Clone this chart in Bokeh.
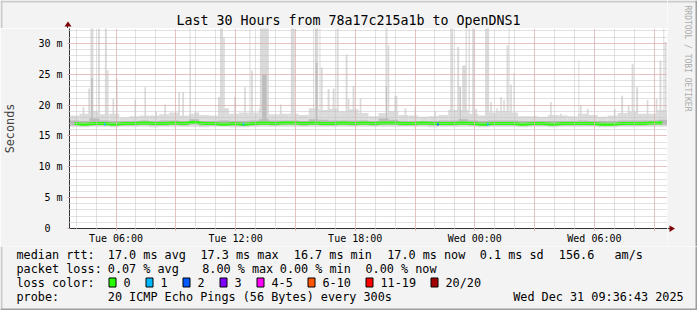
import math
from bokeh.plotting import figure
from bokeh.layouts import column, row
from bokeh.models import Range1d, FixedTicker, ColumnDataSource
from bokeh.core.properties import value
from bokeh.embed import file_html
from bokeh.resources import INLINE

# ---------------- data ----------------
T0, T1 = 3.667, 33.667          # hours since Tue 00:00 (30 hour window)
Y_MAX = 32.4                    # ms

TITLE = "Last 30 Hours from 78a17c215a1b to OpenDNS1"

# 30-minute bins starting at T0
median_ms = [17.0, 16.9, 17.0, 17.0, 16.9, 17.0, 17.0, 17.1, 17.0, 17.0,
             17.1, 17.0, 17.2, 17.0, 17.0, 16.9, 17.0, 16.9, 17.0, 17.1,
             17.0, 17.1, 17.1, 17.0, 17.1, 17.0, 17.0, 17.1, 17.0, 17.1,
             17.0, 17.1, 17.1, 17.0, 17.0, 17.1, 17.0, 17.0, 17.0, 17.1,
             17.0, 16.9, 17.0, 17.0, 17.0, 16.9, 17.0, 17.0, 16.9, 17.0,
             17.0, 17.0, 17.0, 16.9, 16.9, 17.0, 17.0, 17.0, 17.1, 17.1]
smoke_hi = [18.3, 18.6, 19.0, 18.5, 18.6, 18.0, 18.2, 18.3, 18.3, 18.5,
            18.8, 18.3, 18.6, 18.4, 18.3, 19.5, 18.6, 18.8, 18.8, 19.5,
            18.5, 18.6, 18.6, 18.4, 19.5, 19.2, 19.4, 19.0, 19.3, 18.7,
            18.2, 18.7, 19.0, 18.4, 18.3, 18.1, 18.2, 18.4, 19.2, 19.2,
            18.6, 18.3, 18.8, 19.0, 18.8, 18.2, 18.2, 18.1, 18.4, 18.3,
            18.2, 18.6, 18.4, 18.1, 18.3, 18.7, 18.9, 18.6, 18.6, 19.2]
smoke_lo = [16.5, 16.4, 16.5, 16.5, 16.4, 16.5, 16.5, 16.5, 16.4, 16.5,
            16.5, 16.5, 16.5, 16.4, 16.5, 16.5, 16.4, 16.4, 16.5, 16.5,
            16.5, 16.5, 16.5, 16.5, 16.5, 16.5, 16.5, 16.5, 16.5, 16.5,
            16.5, 16.5, 16.5, 16.5, 16.5, 16.5, 16.4, 16.5, 16.5, 16.5,
            16.5, 16.4, 16.5, 16.5, 16.5, 16.4, 16.5, 16.5, 16.4, 16.5,
            16.5, 16.5, 16.5, 16.4, 16.4, 16.5, 16.5, 16.5, 16.5, 16.5]
core_hi = [17.5, 17.4, 17.8, 17.5, 17.4, 17.4, 17.4, 17.5, 17.4, 17.5,
           17.5, 17.4, 17.7, 17.4, 17.4, 17.5, 17.4, 17.4, 17.5, 17.7,
           17.5, 17.5, 17.5, 17.4, 17.7, 17.6, 17.5, 17.5, 17.5, 17.5,
           17.4, 17.8, 17.6, 17.4, 17.4, 17.4, 17.4, 17.5, 17.5, 17.7,
           17.5, 17.4, 17.5, 17.5, 17.5, 17.4, 17.4, 17.4, 17.4, 17.4,
           17.4, 17.5, 17.4, 17.4, 17.4, 17.5, 17.5, 17.5, 17.5, 17.6]

# smoke spikes: time (h), width (min), max ping (ms), inner/darker smoke top (0 = none)
spike_h = [4.367, 4.652, 4.792, 5.142, 5.492, 5.582, 5.867, 6.042, 6.967, 7.467,
           8.017, 8.467, 9.167, 9.367, 9.717, 10.042, 11.217, 11.292, 11.417, 11.967,
           12.467, 12.717, 12.817, 13.442, 14.267, 14.867, 15.917, 16.067, 16.232, 16.317,
           16.667, 16.917, 17.117, 17.567, 17.667, 17.917, 18.267, 19.567, 19.667, 20.042,
           20.517, 21.017, 22.017, 22.842, 23.167, 23.267, 23.467, 23.567, 23.717, 23.917,
           24.067, 24.617, 24.817, 25.117, 25.317, 25.467, 25.642, 25.717, 25.817, 25.967,
           27.017, 27.817, 28.317, 29.217, 29.317, 29.667, 31.017, 31.392, 31.717, 31.917,
           32.142, 32.667, 33.117, 33.317, 33.482, 33.567]
spike_w = [5, 5, 9, 6, 6, 5, 5, 5, 5, 5,
           5, 5, 5, 5, 3, 15, 12, 9, 5, 5,
           5, 3, 6, 27, 5, 12, 3, 9, 3, 6,
           6, 6, 6, 6, 5, 6, 5, 6, 5, 9,
           5, 5, 5, 9, 6, 5, 12, 4, 4, 6,
           5, 12, 5, 5, 5, 5, 6, 3, 5, 3,
           5, 5, 5, 3, 5, 5, 5, 6, 5, 6,
           6, 5, 5, 6, 3, 6]
spike_top = [19.7, 22.7, 32.5, 32.5, 32.5, 25.6, 21.0, 24.3, 20.8, 22.9,
             18.9, 20.1, 22.1, 22.1, 32.5, 18.8, 21.3, 32.5, 31.0, 21.3,
             22.9, 32.5, 25.6, 32.5, 20.1, 32.5, 32.5, 32.5, 32.5, 26.1,
             22.6, 22.7, 32.5, 28.2, 21.0, 23.1, 21.0, 32.5, 29.7, 21.5,
             19.5, 19.7, 19.0, 32.5, 29.4, 23.0, 26.4, 32.5, 32.5, 32.5,
             19.4, 32.5, 20.5, 19.5, 21.3, 20.8, 29.7, 32.5, 23.3, 25.2,
             18.3, 20.5, 18.6, 27.2, 20.0, 19.4, 19.4, 21.5, 20.0, 26.7,
             22.9, 20.8, 21.0, 27.2, 32.5, 30.2]
spike_mid = [0, 0, 24.4, 0, 0, 0, 0, 0, 0, 0,
             0, 0, 0, 0, 27.2, 0, 0, 0, 0, 0,
             0, 0, 0, 25.0, 0, 0, 0, 26.8, 0, 0,
             0, 0, 0, 0, 0, 0, 0, 23.0, 0, 0,
             0, 0, 0, 0, 0, 23.0, 0, 0, 0, 0,
             0, 0, 0, 0, 0, 0, 0, 0, 0, 0,
             0, 0, 0, 0, 0, 0, 0, 0, 0, 0,
             0, 0, 0, 0, 0, 0]

# intervals with packet loss (time h, median ms, loss colour)
loss_h = [5.442, 12.400, 22.150, 24.650]
loss_ms = [16.9, 16.9, 16.9, 16.9]
loss_col = ["#00b8ff", "#00b8ff", "#0059ff", "#00b8ff"]

x_major = [6, 9, 12, 15, 18, 21, 24, 27, 30, 33]
x_labels = {6: "Tue 06:00", 12: "Tue 12:00", 18: "Tue 18:00", 24: "Wed 00:00", 30: "Wed 06:00"}
y_major = [0, 5, 10, 15, 20, 25, 30]
y_labels = ["0\u00a0\u00a0", "5 m", "10 m", "15 m", "20 m", "25 m", "30 m"]

legend_rtt = ["median rtt:", "17.0 ms avg", "17.3 ms max", "16.7 ms min", "17.0 ms now",
              "0.1 ms sd", "156.6", "am/s"]
legend_loss = ["packet loss:", "0.07 % avg", "8.00 % max", "0.00 % min", "0.00 % now"]
loss_names = ["0", "1", "2", "3", "4-5", "6-10", "11-19", "20/20"]
loss_colors = ["#26ff00", "#00b8ff", "#0059ff", "#7e00ff", "#ff00ff", "#ff5500", "#ff0000", "#a00000"]
probe_text = ["probe:", "20 ICMP Echo Pings (56 Bytes) every 300s", "Wed Dec 31 09:36:43 2025"]
watermark = "RRDTOOL / TOBI OETIKER"

# ---------------- layout / style constants ----------------
FONT = "DejaVu Sans Mono"
BG = "#f3f3f3"
SHADE_A = "#cbcbcb"
SHADE_B = "#9e9e9e"
AXIS_COL = "#333333"
ARROW_COL = "#7f0000"


def no_align(f):
    if "frame_align" in f.properties():
        f.frame_align = False
    return f


def aux(gx0, gy0, w, h):
    """A helper figure whose data space equals global canvas pixels."""
    f = figure(width=w, height=h, x_range=Range1d(gx0, gx0 + w), y_range=Range1d(gy0 + h, gy0),
               output_backend="svg", toolbar_location=None, min_border=0,
               x_axis_location=None, y_axis_location=None, title=None,
               background_fill_color=BG, border_fill_color=BG, outline_line_color=None)
    f.xgrid.visible = False
    f.ygrid.visible = False
    return no_align(f)


def txt(f, x, y, text, size="11.8px", align="left", baseline="middle", color="#000000", angle=0.0):
    f.text(x=[x], y=[y], text=[text], text_font=value(FONT), text_font_size=value(size),
           text_align=align, text_baseline=baseline, text_color=color, angle=angle)


def rect(f, x0, y0, x1, y1, fill, line=None):
    f.quad(left=[x0], right=[x1], top=[y0], bottom=[y1], fill_color=fill,
           line_color=line, line_width=1)


# ---------------- main chart (global x 0..667, y 28..246) ----------------
p = figure(width=667, height=218, x_range=Range1d(T0, T1), y_range=Range1d(0, Y_MAX),
           output_backend="svg", toolbar_location=None, title=None,
           min_border_left=67, min_border_right=0, min_border_top=0, min_border_bottom=18,
           background_fill_color="#ffffff", border_fill_color=BG, outline_line_color=None)
no_align(p)

bin_left = [T0 + 0.5 * i for i in range(len(median_ms))]
bin_right = [b + 0.5 for b in bin_left]
bin_mid = [b + 0.25 for b in bin_left]

base = ColumnDataSource(dict(l=bin_left, r=bin_right, lo=smoke_lo, hi=smoke_hi,
                             clo=[m - 0.3 for m in median_ms], chi=core_hi))
p.quad(left="l", right="r", bottom="lo", top="hi", source=base,
       fill_color="#dcdcdc", line_color=None)

sp = ColumnDataSource(dict(l=[h - w / 120 for h, w in zip(spike_h, spike_w)],
                           r=[h + w / 120 for h, w in zip(spike_h, spike_w)],
                           b=[17.0] * len(spike_h), t=spike_top))
p.quad(left="l", right="r", bottom="b", top="t", source=sp,
       fill_color="#dadada", line_color=None)

mid_idx = [i for i, m in enumerate(spike_mid) if m > 0]
spm = ColumnDataSource(dict(l=[spike_h[i] - spike_w[i] / 240 for i in mid_idx],
                            r=[spike_h[i] + spike_w[i] / 240 for i in mid_idx],
                            b=[17.0] * len(mid_idx), t=[spike_mid[i] for i in mid_idx]))
p.quad(left="l", right="r", bottom="b", top="t", source=spm,
       fill_color="#bdbdbd", line_color=None)

p.quad(left="l", right="r", bottom="clo", top="chi", source=base,
       fill_color="#bababa", line_color=None)

p.line(bin_mid, median_ms, line_color="#26ff00", line_width=3)
p.rect(x=loss_h, y=loss_ms, width=5 / 60, height=0.45, fill_color=loss_col, line_color=None)

p.xaxis.ticker = FixedTicker(ticks=x_major, minor_ticks=list(range(4, 34)))
p.xaxis.major_label_overrides = {t: x_labels.get(t, "") for t in x_major}
p.yaxis.ticker = FixedTicker(ticks=y_major, minor_ticks=list(range(0, 33)))
p.yaxis.major_label_overrides = {t: s for t, s in zip(y_major, y_labels)}

for ax in (p.xaxis[0], p.yaxis[0]):
    ax.axis_line_color = AXIS_COL
    ax.major_tick_line_color = "#d9a0a0"
    ax.major_tick_out = 2
    ax.major_tick_in = 0
    ax.minor_tick_line_color = "#c4c4c4"
    ax.minor_tick_out = 1
    ax.minor_tick_in = 0
    ax.major_label_text_font = FONT
    ax.major_label_text_font_size = "10px"
    ax.major_label_text_color = "#000000"
p.xaxis.major_label_standoff = 2
p.yaxis.major_label_standoff = 5
p.yaxis.axis_label = "Seconds"
p.yaxis.axis_label_text_font = FONT
p.yaxis.axis_label_text_font_size = "11.8px"
p.yaxis.axis_label_text_font_style = "normal"
p.yaxis.axis_label_standoff = 18

for g in (p.xgrid[0], p.ygrid[0]):
    g.level = "overlay"
    g.grid_line_color = "#eda2a2"
    g.grid_line_dash = "1 1"
    g.minor_grid_line_color = "#c2c2c2"
    g.minor_grid_line_dash = "1 1"

# ---------------- header (global x 0..667, y 0..28) ----------------
head = aux(0, 0, 667, 28)
rect(head, 0, 0, 667, 2, SHADE_A)
rect(head, 0, 0, 2, 28, SHADE_A)
txt(head, 348, 20, TITLE, size="13.3px", align="center", baseline="middle")
rect(head, 66.5, 24, 67.5, 28, AXIS_COL)
head.patch([64, 71, 67.5], [26, 26, 21], fill_color=ARROW_COL, line_color=None)

# ---------------- right strip (global x 667..697, y 0..246) ----------------
side = aux(667, 0, 30, 246)
rect(side, 667, 0, 697, 2, SHADE_A)
rect(side, 695, 0, 697, 246, SHADE_B)
rect(side, 667, 227.5, 671, 228.5, AXIS_COL)
side.patch([669, 669, 674.5], [225, 231.5, 228], fill_color=ARROW_COL, line_color=None)
txt(side, 687, 5, watermark, size="8px", color="#ababab", angle=-math.pi / 2)

# ---------------- legend (global x 0..697, y 246..310) ----------------
leg = aux(0, 246, 697, 64)
rect(leg, 0, 246, 2, 310, SHADE_A)
rect(leg, 695, 246, 697, 310, SHADE_B)
rect(leg, 0, 308, 697, 310, SHADE_B)

rtt_x = [16, 107.3, 200, 293.3, 386.7, 479.3, 558.3, 614]
for t, x in zip(legend_rtt, rtt_x):
    txt(leg, x, 254, t)
loss_x = [16, 107.3, 201.7, 279.3, 365]
for t, x in zip(legend_loss, loss_x):
    txt(leg, x, 268, t)
txt(leg, 16, 282, "loss color:")
box_x = [108, 145, 182, 219, 256, 307, 365, 430]
for name, col, bx in zip(loss_names, loss_colors, box_x):
    rect(leg, bx + 0.5, 277.5, bx + 7.5, 286.5, col, "#000000")
    txt(leg, bx + 15, 282, name)
txt(leg, 16, 296, probe_text[0])
txt(leg, 107.3, 296, probe_text[1])
txt(leg, 512.7, 296, probe_text[2])

layout = column(row(column(row(head), row(p)), side), row(leg))
open("out.html", "w").write(file_html(layout, INLINE))
